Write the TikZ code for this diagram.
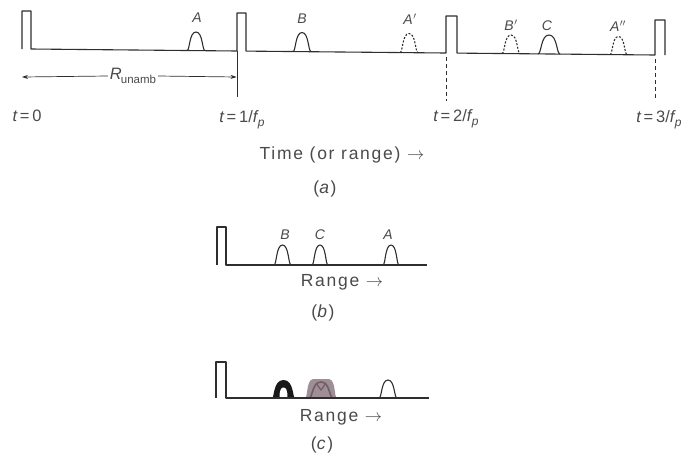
\documentclass[tikz,border=0pt]{standalone}
\usepackage{fontspec}
\setmainfont{Liberation Sans}
\newfontfamily\lbl{Liberation Sans}[LetterSpace=10]
\usetikzlibrary{arrows.meta}
\definecolor{ink}{HTML}{2E2E2E}
\definecolor{txt}{HTML}{4A4A4A}
\definecolor{mauve}{HTML}{A08E96}
\definecolor{mauvedark}{HTML}{6F5E66}

% arch-shaped echo: [style] x0 x1 base peak
\newcommand\echoarch[5][]{%
  \pgfmathsetmacro\bmpW{#3-#2}%
  \pgfmathsetmacro\bmpA{#2+0.16*\bmpW}%
  \pgfmathsetmacro\bmpB{#2+0.12*\bmpW}%
  \pgfmathsetmacro\bmpM{#2+0.5*\bmpW}%
  \pgfmathsetmacro\bmpC{#3-0.12*\bmpW}%
  \pgfmathsetmacro\bmpD{#3-0.16*\bmpW}%
  \draw[trace,#1] (#2,#4) .. controls (\bmpA,#4) and (\bmpB,#5) .. (\bmpM,#5)
       .. controls (\bmpC,#5) and (\bmpD,#4) .. (#3,#4);%
}

\begin{document}
\begin{tikzpicture}[x=1pt,y=-1pt,
  trace/.style={draw=ink,line width=1.1pt,line join=round},
  dashecho/.style={dash pattern=on 2pt off 1.6pt},
  guide/.style={draw=ink,line width=0.7pt},
  dguide/.style={draw=ink,line width=0.7pt,dash pattern=on 4pt off 3pt},
  echolbl/.style={text=txt,font=\fontsize{14}{16}\selectfont\itshape,inner sep=0pt},
  tlbl/.style={text=txt,font=\fontsize{16.5}{18}\selectfont,inner sep=0pt},
  caplbl/.style={text=txt,font=\lbl\fontsize{17.5}{20}\selectfont,inner sep=0pt},
  dimarrow/.style={draw=ink,line width=0.7pt,-{Stealth[length=6pt,width=4pt]}}
]
\useasboundingbox (0,0) rectangle (692,456);

% ---------------- panel (a) ----------------
\draw[trace] (22,49) -- (22,11) -- (31,11) -- (31,49) -- (237,51)
  -- (237,13) -- (246,13) -- (246,51.1) -- (446,53)
  -- (446,16) -- (457,16) -- (457,53.1) -- (655,55)
  -- (655,20) -- (665,20) -- (665,55.1);

\echoarch{187}{205}{50.5}{32}
\echoarch{293}{311}{51.5}{32.5}
\echoarch[dashecho]{400}{418}{52.5}{33.5}
\echoarch[dashecho]{502}{520}{53.5}{35}
\echoarch{538}{560}{54}{35}
\echoarch[dashecho]{610}{627}{54.6}{36.5}

\node[echolbl] (lA)   at (197,18) {A};
\node[echolbl] (lB)   at (302,19) {B};
\node[echolbl] (lA1)  at (410,19) {A\kern0.5pt$'$};
\node[echolbl] (lB1)  at (511,25) {B\kern0.5pt$'$};
\node[echolbl] (lC)   at (547,26) {C};
\node[echolbl] (lA2)  at (618,26) {A\kern0.5pt$''$};

% guides
\coordinate (g1top) at (237,51);
\coordinate (g1bot) at (237,97);
\coordinate (g2top) at (446,57);
\coordinate (g2bot) at (446,101);
\coordinate (g3top) at (655,59);
\coordinate (g3bot) at (655,101);
\draw[guide] (g1top) -- (g1bot);
\draw[dguide] (g2top) -- (g2bot);
\draw[dguide] (g3top) -- (g3bot);

% R_unamb
\coordinate (rl) at (22,77);
\coordinate (rr) at (236.6,77);
\node[text=txt,inner sep=2pt,font=\fontsize{16.5}{18}\selectfont] (runamb) at (133,76)
  {\itshape R\kern-1pt\raisebox{-3.5pt}{\upshape\fontsize{11.5}{12}\selectfont unamb}};
\draw[dimarrow] (runamb.west) -- (rl);
\draw[dimarrow] (runamb.east) -- (rr);

% time labels
\node[tlbl] (t0) at (27,116) {\itshape t\upshape\,=\,0};
\node[tlbl] (t1) at (242,120) {\itshape t\upshape\,=\,1/\itshape f\kern0.5pt\raisebox{-4pt}{\fontsize{12}{13}\selectfont p}};
\node[tlbl] (t2) at (456,119) {\itshape t\upshape\,=\,2/\itshape f\kern0.5pt\raisebox{-4pt}{\fontsize{12}{13}\selectfont p}};
\node[tlbl] (t3) at (659,120) {\itshape t\upshape\,=\,3/\itshape f\kern0.5pt\raisebox{-4pt}{\fontsize{12}{13}\selectfont p}};

\node[caplbl] (timecap) at (342,155) {Time (or range) $\rightarrow$};
\node[caplbl] (capa) at (325,189) {(\textit{a})};

% ---------------- panel (b) ----------------
\draw[trace] (217,265) -- (217,227) -- (226,227) -- (226,265) -- (427,265);
\echoarch{274}{291}{265}{245}
\echoarch{312}{328}{265}{245}
\echoarch{383}{399}{265}{245}
\node[echolbl] (bB) at (285,235) {B};
\node[echolbl] (bC) at (320,235) {C};
\node[echolbl] (bA) at (388,235) {A};
\node[caplbl] (rangeb) at (342,282) {Range $\rightarrow$};
\node[caplbl] (capb) at (323,313) {(\textit{b})};

% ---------------- panel (c) ----------------
% thick black echo
\fill[black!90] (272,398) .. controls (274.5,398) and (273,380) .. (283.5,380)
  .. controls (294,380) and (292.5,398) .. (295,398) -- cycle;
\fill[white] (279.5,398) .. controls (279.5,390) and (281,387.5) .. (283.5,387.5)
  .. controls (286,387.5) and (287.5,390) .. (287.5,398) -- cycle;
% overlapping grey echoes
\fill[mauve] (305,398) .. controls (308,398) and (306,380) .. (313,379)
  -- (329,379) .. controls (336,380) and (334,398) .. (337,398) -- cycle;
\echoarch[draw=mauvedark,line width=1.6pt]{309}{333}{398}{382}
\draw[mauvedark,line width=1.2pt] (316,383) -- (321,390) -- (326,383);
\echoarch{379}{397}{398}{380}
\draw[trace] (216,398) -- (216,362) -- (226,362) -- (226,398) -- (429,398);
\node[caplbl] (rangec) at (341,417) {Range $\rightarrow$};
\node[caplbl] (capc) at (322,445) {(\textit{c})};
\end{tikzpicture}
\end{document}
